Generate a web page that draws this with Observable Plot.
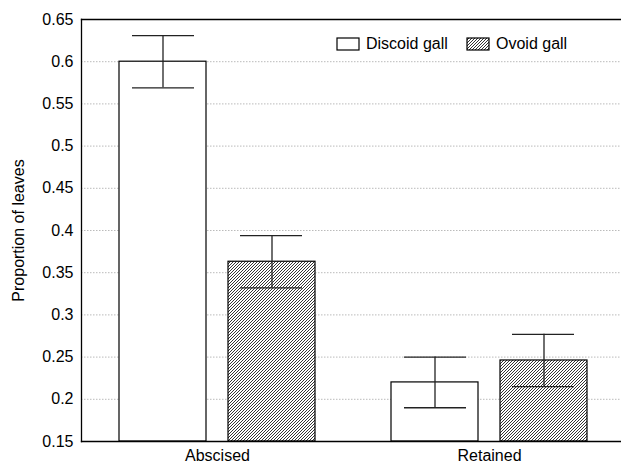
<!DOCTYPE html>
<html>
<head>
<meta charset="utf-8">
<script src="https://cdn.jsdelivr.net/npm/d3@7"></script>
<script src="https://cdn.jsdelivr.net/npm/@observablehq/plot@0.6"></script>
<style>
  html, body { margin: 0; padding: 0; background: #fff; }
  #chart svg { display: block; }
</style>
</head>
<body>
<div id="chart"></div>
<script>
// ---- data ----
const categories = ["Abscised", "Retained"];
const galls = ["Discoid gall", "Ovoid gall"];
const discoidMean = [0.600, 0.220];
const discoidLow  = [0.569, 0.190];
const discoidHigh = [0.631, 0.250];
const ovoidMean = [0.363, 0.246];
const ovoidLow  = [0.332, 0.215];
const ovoidHigh = [0.394, 0.277];
const yTicks = [0.15, 0.2, 0.25, 0.3, 0.35, 0.4, 0.45, 0.5, 0.55, 0.6, 0.65];
const yLabel = "Proportion of leaves";

const discoid = categories.map((c, i) => ({category: c, mean: discoidMean[i], lo: discoidLow[i], hi: discoidHigh[i]}));
const ovoid = categories.map((c, i) => ({category: c, mean: ovoidMean[i], lo: ovoidLow[i], hi: ovoidHigh[i]}));
const yMin = yTicks[0], yMax = yTicks[yTicks.length - 1];

const W = 621, H = 463, ML = 81, MT = 19, MB = 22;
const step = 272; // band width in px
const errStroke = "#222";

const plot = Plot.plot({
  width: W,
  height: H,
  marginLeft: ML,
  marginRight: 0,
  marginTop: MT,
  marginBottom: MB,
  style: {fontFamily: "'Liberation Sans', Arial, sans-serif", fontSize: "16px", background: "#fff", color: "#000"},
  x: {domain: categories, range: [ML, ML + 2 * step], padding: 0},
  y: {domain: [yMin, yMax]},
  marks: [
    Plot.gridY(yTicks.slice(1, -1), {stroke: "#bbb", strokeOpacity: 1, strokeDasharray: "1.5,1.5"}),
    Plot.barY(discoid, {x: "category", y1: () => yMin, y2: "mean", fill: "#fff", stroke: "#000", strokeWidth: 1.2, insetLeft: 38, insetRight: 147}),
    Plot.barY(ovoid, {x: "category", y1: () => yMin, y2: "mean", fill: "url(#hatch)", stroke: "#000", strokeWidth: 1.2, insetLeft: 147, insetRight: 38}),
    Plot.ruleX(discoid, {x: "category", y1: "lo", y2: "hi", dx: -54.5, stroke: errStroke, strokeWidth: 1.3}),
    Plot.ruleX(ovoid, {x: "category", y1: "lo", y2: "hi", dx: 54.5, stroke: errStroke, strokeWidth: 1.3}),
    Plot.tickY(discoid, {x: "category", y: "hi", insetLeft: 51, insetRight: 159, stroke: errStroke, strokeWidth: 1.3}),
    Plot.tickY(discoid, {x: "category", y: "lo", insetLeft: 51, insetRight: 159, stroke: errStroke, strokeWidth: 1.3}),
    Plot.tickY(ovoid, {x: "category", y: "hi", insetLeft: 159, insetRight: 51, stroke: errStroke, strokeWidth: 1.3}),
    Plot.tickY(ovoid, {x: "category", y: "lo", insetLeft: 159, insetRight: 51, stroke: errStroke, strokeWidth: 1.3}),
    Plot.frame({anchor: "left", stroke: "#000", strokeWidth: 1.3}),
    Plot.frame({anchor: "top", stroke: "#000", strokeWidth: 1.3}),
    Plot.frame({anchor: "bottom", stroke: "#000", strokeWidth: 1.3}),
    Plot.axisY({ticks: yTicks, tickSize: 0, tickPadding: 8, tickFormat: d => String(d), fontSize: 16,
      label: yLabel, labelAnchor: "center", labelArrow: "none", labelOffset: 69}),
    Plot.axisX({tickSize: 0, tickPadding: 8, fontSize: 16, label: null})
  ]
});

document.getElementById("chart").appendChild(plot);

// hatch pattern definition
const svg = d3.select(plot);
const defs = svg.insert("defs", ":first-child");
const pat = defs.append("pattern").attr("id", "hatch").attr("patternUnits", "userSpaceOnUse")
  .attr("width", 3).attr("height", 3);
pat.append("rect").attr("width", 3).attr("height", 3).attr("fill", "#fff");
pat.append("path").attr("d", "M-1,1 L1,-1 M0,3 L3,0 M2,4 L4,2")
  .attr("stroke", "#000").attr("stroke-width", 0.8);

// legend
const legendPos = [{x: 337, text: 366}, {x: 467, text: 496}];
const lg = svg.append("g").attr("font-family", "'Liberation Sans', Arial, sans-serif")
  .attr("font-size", 16).attr("text-anchor", "start");
galls.forEach((g, i) => {
  lg.append("rect").attr("x", legendPos[i].x).attr("y", 38).attr("width", 22).attr("height", 12)
    .attr("fill", i === 0 ? "#fff" : "url(#hatch)").attr("stroke", "#000").attr("stroke-width", 1.2);
  lg.append("text").attr("x", legendPos[i].text).attr("y", 49).attr("fill", "#000").text(g);
});
</script>
</body>
</html>
